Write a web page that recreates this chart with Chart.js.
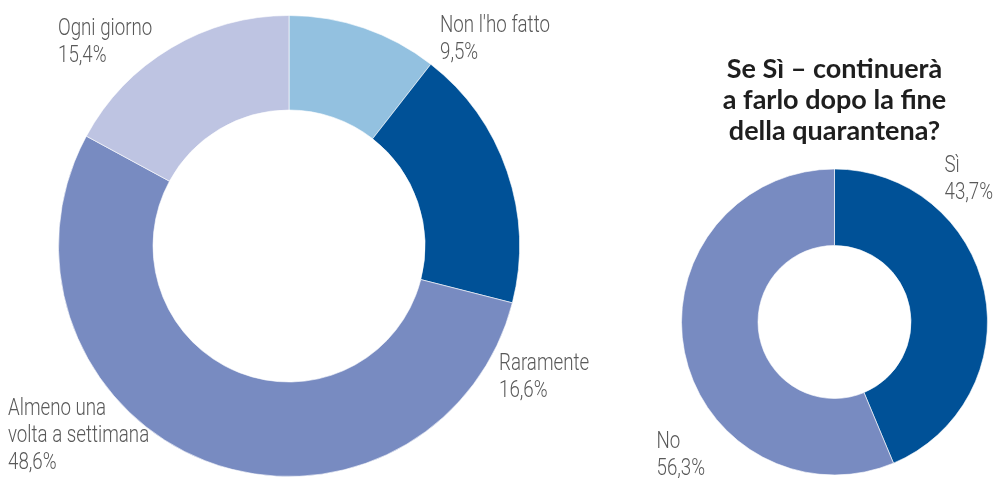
<!DOCTYPE html>
<html lang="it">
<head>
<meta charset="utf-8">
<script src="https://cdn.jsdelivr.net/npm/chart.js@4"></script>
<style>
  html, body { margin: 0; padding: 0; background: #fff; }
  body { width: 1000px; height: 478px; position: relative; overflow: hidden; }
  .box { position: absolute; top: 0; height: 478px; }
  #boxFreq { left: 0; width: 600px; }
  #boxCont { left: 600px; width: 400px; }
</style>
</head>
<body>
<div class="box" id="boxFreq"><canvas id="chartFreq"></canvas></div>
<div class="box" id="boxCont"><canvas id="chartCont"></canvas></div>
<script>
// frequenza
const freqLabels = [["Non l'ho fatto"], ["Raramente"], ["Almeno una", "volta a settimana"], ["Ogni giorno"]];
const freqValues = [9.5, 16.6, 48.6, 15.4];
const freqColors = ["#93c1e0", "#005197", "#788bc1", "#bec4e2"];

// continuerà dopo la quarantena
const contTitle = ["Se Sì – continuerà", "a farlo dopo la fine", "della quarantena?"];
const contLabels = [["Sì"], ["No"]];
const contValues = [43.7, 56.3];
const contColors = ["#005197", "#788bc1"];

// where each label block goes, relative to the donut centre (left x, first baseline)
const freqLabelPos = [[151, -214], [210, 124], [-281, 169], [-231, -211]];
const contLabelPos = [[110, -150], [-178, 126]];

const fmt = v => v.toFixed(1).replace(".", ",") + "%";

// narrow light labels next to the slices
const sliceLabels = {
  id: "sliceLabels",
  afterDraw(chart, args, opts) {
    const c = chart.ctx;
    const arc = chart.getDatasetMeta(0).data[0];
    const cx = arc.x, cy = arc.y;
    const vals = chart.data.datasets[0].data;
    const squeeze = 0.78;
    c.save();
    c.font = "300 24px Roboto, sans-serif";
    c.fillStyle = "#595959";
    c.textBaseline = "alphabetic";
    c.textAlign = "left";
    opts.pos.forEach((p, i) => {
      const lines = chart.data.labels[i].concat([fmt(vals[i])]);
      lines.forEach((t, j) => {
        c.save();
        c.translate(cx + p[0], cy + p[1] + j * 27);
        c.scale(squeeze, 1);
        c.fillText(t, 0, 0);
        c.restore();
      });
    });
    c.restore();
  }
};

new Chart(document.getElementById("chartFreq"), {
  type: "doughnut",
  data: {
    labels: freqLabels,
    datasets: [{
      data: freqValues,
      backgroundColor: freqColors,
      borderColor: "rgba(255,255,255,0.6)",
      borderWidth: 1,
      hoverOffset: 0,
    }],
  },
  options: {
    responsive: true,
    maintainAspectRatio: false,
    animation: false,
    cutout: "59%",
    layout: { padding: { left: 58, right: 80, top: 15, bottom: 1 } },
    plugins: {
      legend: { display: false },
      tooltip: { enabled: false },
      sliceLabels: { pos: freqLabelPos },
    },
  },
  plugins: [sliceLabels],
});

new Chart(document.getElementById("chartCont"), {
  type: "doughnut",
  data: {
    labels: contLabels,
    datasets: [{
      data: contValues,
      backgroundColor: contColors,
      borderColor: "rgba(255,255,255,0.6)",
      borderWidth: 1,
      hoverOffset: 0,
    }],
  },
  options: {
    responsive: true,
    maintainAspectRatio: false,
    animation: false,
    cutout: "50%",
    layout: { padding: { left: 81, right: 12, top: 44, bottom: 2 } },
    plugins: {
      legend: { display: false },
      tooltip: { enabled: false },
      title: {
        display: true,
        text: contTitle,
        color: "#1e1e1e",
        font: { family: "Lato, 'DejaVu Sans', sans-serif", size: 27, weight: "bold", lineHeight: "31px" },
        padding: { top: 10, bottom: 21 },
      },
      sliceLabels: { pos: contLabelPos },
    },
  },
  plugins: [sliceLabels],
});
</script>
</body>
</html>
